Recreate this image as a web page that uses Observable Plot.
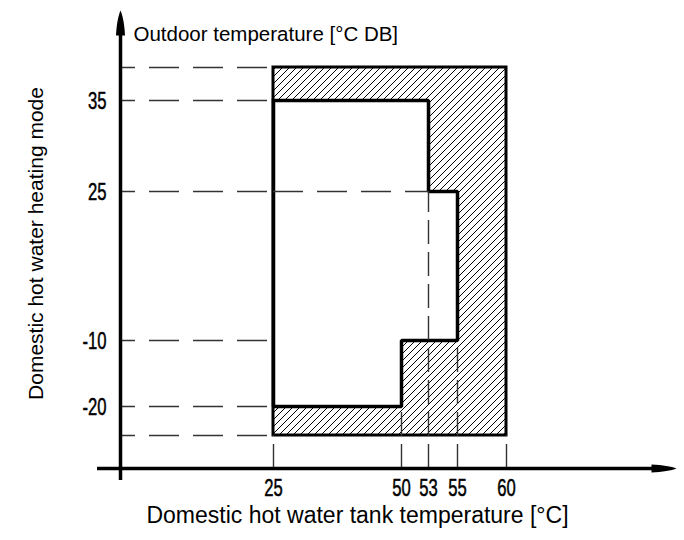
<!DOCTYPE html>
<html>
<head>
<meta charset="utf-8">
<script src="https://cdn.jsdelivr.net/npm/d3@7"></script>
<script src="https://cdn.jsdelivr.net/npm/@observablehq/plot@0.6"></script>
<style>
  html, body { margin: 0; padding: 0; background: white; }
</style>
</head>
<body>
<div id="chart"></div>
<script>
// ---- data ----
const xTicks = [25, 50, 53, 55, 60];
const yTicks = [35, 25, -10, -20];
const xOrigin = 0;      // where the y axis stands
const yOrigin = -30;    // where the x axis stands
const boxX = [25, 60];  // full range (hatched)
const boxY = [-25, 40];
const envelopeX = [25, 53, 53, 55, 55, 50, 50, 25, 25];
const envelopeY = [35, 35, 25, 25, -10, -10, -20, -20, 35];
const hGuides = [40, 35, 25, -10, -20, -25];
const hGuideInner = [{y: 25, from: 25, to: 53}];
const vGuideX = [25, 50, 53, 55, 60];
const vGuideFrom = [-25, -20, 25, -10, -25];
const xAxisEnds = [-4, 77.5, 80];   // start, shaft end, arrow tip
const yAxisEnds = [-32, 47, 52];

const xTitle = "Domestic hot water tank temperature [°C]";
const yTitle = "Domestic hot water heating mode";
const topTitle = "Outdoor temperature [°C DB]";

// ---- piecewise (non-uniform) scales as in the original drawing ----
const xBreaks = [-4, 0, 25, 50, 53, 55, 60, 80];
const xPixels = [97, 120, 273, 401, 428, 457, 506, 676];
const yBreaks = [-32, -30, -25, -20, -10, 25, 35, 40, 52];
const yPixels = [480, 468, 435, 406, 340, 191, 100, 67, 10];

const box = [{x1: boxX[0], x2: boxX[1], y1: boxY[0], y2: boxY[1]}];
const envelope = envelopeX.map((x, i) => ({x, y: envelopeY[i]}));
const vGuides = vGuideX.map((x, i) => ({x, from: vGuideFrom[i]}));

const upArrow = {draw(ctx) {
  ctx.moveTo(0, 0);
  ctx.bezierCurveTo(2.2, 5, 4, 14, 4.5, 25);
  ctx.lineTo(-4.5, 25);
  ctx.bezierCurveTo(-4, 14, -2.2, 5, 0, 0);
  ctx.closePath();
}};
const rightArrow = {draw(ctx) {
  ctx.moveTo(0, 0);
  ctx.bezierCurveTo(-5, -2, -14, -3.6, -25, -4);
  ctx.lineTo(-25, 4);
  ctx.bezierCurveTo(-14, 3.6, -5, 2, 0, 0);
  ctx.closePath();
}};

const tickFont = "Liberation Sans, Arimo, sans-serif";
const titleFont = "Liberation Sans, Arial, sans-serif";

const svg = Plot.plot({
  width: 684,
  height: 540,
  marginTop: 0, marginRight: 0, marginBottom: 0, marginLeft: 0,
  x: {type: "linear", domain: xBreaks, range: xPixels, axis: null},
  y: {type: "linear", domain: yBreaks, range: yPixels, axis: null},
  marks: [
    // hatched full range
    Plot.rect(box, {x1: "x1", x2: "x2", y1: "y1", y2: "y2", fill: "url(#hatch)", stroke: "black", strokeWidth: 3}),
    // continuous operation envelope
    Plot.line(envelope, {x: "x", y: "y", fill: "white", stroke: "black", strokeWidth: 3.5, strokeLinejoin: "miter", strokeLinecap: "square"}),
    // horizontal dashed guides
    Plot.ruleY(hGuides, {y: d => d, x1: xOrigin, x2: boxX[0], stroke: "#333", strokeWidth: 1.4, strokeDasharray: "30,14", strokeDashoffset: 15}),
    Plot.ruleY(hGuideInner, {y: "y", x1: "from", x2: "to", stroke: "#333", strokeWidth: 1.4, strokeDasharray: "30,14"}),
    // vertical dashed guides
    Plot.ruleX(vGuides, {x: "x", y1: yOrigin, y2: "from", stroke: "#333", strokeWidth: 1.4, strokeDasharray: "24,8"}),
    // axes
    Plot.ruleY([yOrigin], {x1: xAxisEnds[0], x2: xAxisEnds[1], stroke: "black", strokeWidth: 3.5}),
    Plot.ruleX([xOrigin], {y1: yAxisEnds[0], y2: yAxisEnds[1], stroke: "black", strokeWidth: 3.5}),
    Plot.dot([0], {x: xOrigin, y: yAxisEnds[2], symbol: upArrow, fill: "black", stroke: "none"}),
    Plot.dot([0], {x: xAxisEnds[2], y: yOrigin, symbol: rightArrow, fill: "black", stroke: "none"}),
    // tick labels
    Plot.text(xTicks, {x: d => d, y: yOrigin, dy: 20, text: d => String(d), fontSize: 24.5, fontFamily: tickFont, fill: "black", stroke: "black", strokeWidth: 0.5, lineAnchor: "middle"}),
    Plot.text(yTicks, {x: xOrigin, y: d => d, dx: -14, dy: 1, text: d => String(d), fontSize: 24.5, fontFamily: tickFont, fill: "black", stroke: "black", strokeWidth: 0.5, textAnchor: "end", lineAnchor: "middle"}),
    // titles
    Plot.text([topTitle], {frameAnchor: "top-left", dx: 133, dy: 40, text: d => d, textAnchor: "start", lineAnchor: "bottom", fontSize: 20.5, fontFamily: titleFont, fill: "black"}),
    Plot.text([xTitle], {frameAnchor: "bottom", dx: 15, dy: -18, text: d => d, textAnchor: "middle", lineAnchor: "bottom", fontSize: 23, fontFamily: titleFont, fill: "black"}),
    Plot.text([yTitle], {frameAnchor: "left", dx: 42, dy: -27, rotate: -90, text: d => d, textAnchor: "middle", lineAnchor: "bottom", fontSize: 21, fontFamily: titleFont, fill: "black"})
  ]
});

// hatch pattern definition
const defs = d3.select(svg).insert("defs", ":first-child");
const pat = defs.append("pattern").attr("id", "hatch").attr("patternUnits", "userSpaceOnUse")
  .attr("width", 7).attr("height", 7);
pat.append("rect").attr("width", 7).attr("height", 7).attr("fill", "white");
pat.append("path").attr("d", "M-1,1 L1,-1 M0,7 L7,0 M6,8 L8,6")
  .attr("stroke", "black").attr("stroke-width", 1);

document.getElementById("chart").appendChild(svg);

// condensed look of the tick numerals (the original uses a narrow typeface)
d3.select(svg).selectAll("text").each(function() {
  const g = this.closest("g");
  const fam = (g && g.getAttribute("font-family")) || this.getAttribute("font-family");
  if (fam !== tickFont) return;
  const w = this.getComputedTextLength();
  this.setAttribute("textLength", (w * 0.68).toFixed(2));
  this.setAttribute("lengthAdjust", "spacingAndGlyphs");
});
</script>
</body>
</html>
